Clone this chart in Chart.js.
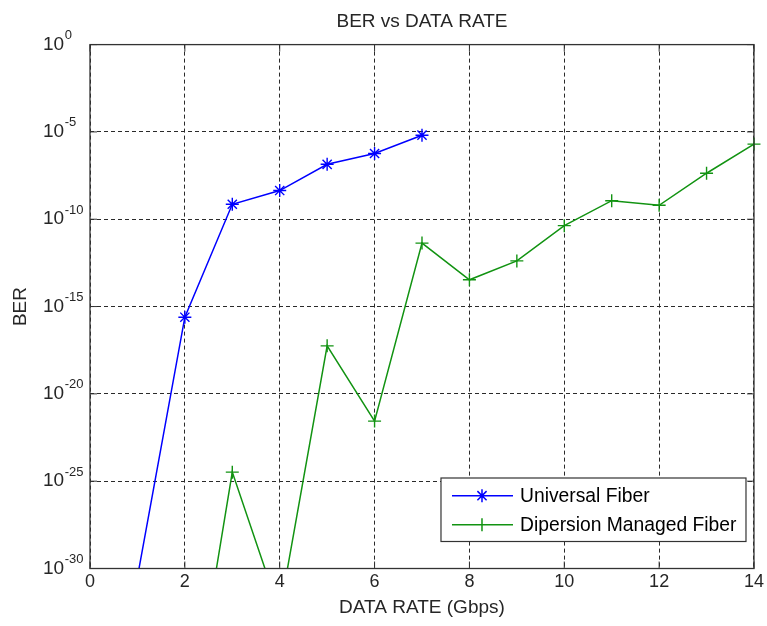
<!DOCTYPE html>
<html>
<head>
<meta charset="utf-8">
<script src="https://cdn.jsdelivr.net/npm/chart.js@4/dist/chart.umd.min.js"></script>
<style>
  html, body { margin: 0; padding: 0; background: #fff; }
  #wrap { width: 767px; height: 626px; position: relative; }
</style>
</head>
<body>
<div id="wrap"><canvas id="c"></canvas></div>
<script>
// ---- data ----
const chartTitle = 'BER vs DATA RATE';
const xAxisTitle = 'DATA RATE (Gbps)';
const yAxisTitle = 'BER';
const seriesNames = ['Universal Fiber', 'Dipersion Managed Fiber'];
const xUniversal = [1, 2, 3, 4, 5, 6, 7];
const berUniversal = [3.2e-31, 2.45e-16, 7.2e-10, 4.4e-9, 1.4e-7, 5.8e-7, 6.5e-6];
const xDispersion = [2, 3, 4, 5, 6, 7, 8, 9, 10, 11, 12, 13, 14];
const berDispersion = [1e-41, 3.3e-25, 3.2e-33, 5.6e-18, 2.75e-22, 4.3e-12, 3.4e-14, 4.1e-13, 4.3e-11, 1.15e-9, 6.3e-10, 4.3e-8, 2.0e-6];
const xTickStep = 2;
const xMin = 0, xMax = 14;
const yTickValues = [1e0, 1e-5, 1e-10, 1e-15, 1e-20, 1e-25, 1e-30];

const FONT = "'Liberation Sans', Arial, Helvetica, sans-serif";
const TEXT = '#262626';
const AXIS = '#333333';
const BLUE = '#0000ff';
const GREEN = '#129312';

Chart.defaults.font.family = FONT;
Chart.defaults.color = TEXT;

function toPoints(xs, ys) { return xs.map((x, i) => ({ x: x, y: ys[i] })); }

const decorPlugin = {
  id: 'decor',
  afterDatasetsDraw(chart) {
    const ctx = chart.ctx;
    const a = chart.chartArea;
    const xs = chart.scales.x, ys = chart.scales.y;
    ctx.save();
    // frame
    ctx.strokeStyle = AXIS;
    ctx.lineWidth = 1.3;
    ctx.setLineDash([]);
    ctx.strokeRect(a.left, a.top, a.right - a.left, a.bottom - a.top);
    // inward ticks
    const tl = 7;
    ctx.lineWidth = 1;
    ctx.beginPath();
    xs.ticks.forEach(t => {
      const px = xs.getPixelForValue(t.value);
      ctx.moveTo(px, a.bottom); ctx.lineTo(px, a.bottom - tl);
      ctx.moveTo(px, a.top); ctx.lineTo(px, a.top + tl);
    });
    ys.ticks.forEach(t => {
      const py = ys.getPixelForValue(t.value);
      ctx.moveTo(a.left, py); ctx.lineTo(a.left + tl, py);
      ctx.moveTo(a.right, py); ctx.lineTo(a.right - tl, py);
    });
    ctx.stroke();

    // y tick labels as 10^n
    ctx.fillStyle = TEXT;
    ys.ticks.forEach(t => {
      const py = ys.getPixelForValue(t.value);
      const e = Math.round(Math.log10(t.value));
      ctx.font = '19px ' + FONT;
      ctx.textAlign = 'left';
      ctx.textBaseline = 'middle';
      const bx = a.left - 47;
      ctx.fillText('10', bx, py);
      const w = ctx.measureText('10').width;
      ctx.font = '13px ' + FONT;
      ctx.fillText(String(e), bx + w + 0.5, py - 9);
    });

    // legend
    const lw = 305, lh = 63.5;
    const lx = a.right - 8 - lw, ly = a.bottom - 27 - lh;
    ctx.fillStyle = '#ffffff';
    ctx.fillRect(lx, ly, lw, lh);
    ctx.strokeStyle = AXIS;
    ctx.lineWidth = 1.2;
    ctx.strokeRect(lx, ly, lw, lh);
    chart.data.datasets.forEach((ds, i) => {
      const cy = ly + 17.7 + i * 29;
      ctx.strokeStyle = ds.borderColor;
      ctx.lineWidth = ds.borderWidth;
      ctx.beginPath();
      ctx.moveTo(lx + 11, cy); ctx.lineTo(lx + 72, cy);
      const mx = lx + 41, r = ds.pointRadius;
      ctx.moveTo(mx, cy - r); ctx.lineTo(mx, cy + r);
      if (ds.pointStyle === 'star') {
        const d = r * Math.SQRT1_2;
        ctx.moveTo(mx - d, cy - d); ctx.lineTo(mx + d, cy + d);
        ctx.moveTo(mx - d, cy + d); ctx.lineTo(mx + d, cy - d);
      }
      ctx.stroke();
      ctx.fillStyle = '#000000';
      ctx.font = '19.3px ' + FONT;
      ctx.textAlign = 'left';
      ctx.textBaseline = 'middle';
      ctx.fillText(ds.label, lx + 79, cy + 1);
    });
    ctx.restore();
  }
};

new Chart(document.getElementById('c'), {
  type: 'line',
  data: {
    datasets: [
      {
        label: seriesNames[0],
        data: toPoints(xUniversal, berUniversal),
        borderColor: BLUE,
        backgroundColor: BLUE,
        borderWidth: 1.5,
        pointStyle: 'star',
        pointRadius: 6.5,
        pointBorderWidth: 1.4,
        fill: false,
        tension: 0,
        clip: { left: 0, top: 10, right: 10, bottom: 0 }
      },
      {
        label: seriesNames[1],
        data: toPoints(xDispersion, berDispersion),
        borderColor: GREEN,
        backgroundColor: GREEN,
        borderWidth: 1.5,
        pointStyle: 'cross',
        pointRadius: 6.5,
        pointBorderWidth: 1.4,
        fill: false,
        tension: 0,
        clip: { left: 0, top: 10, right: 10, bottom: 0 }
      }
    ]
  },
  options: {
    responsive: true,
    maintainAspectRatio: false,
    animation: false,
    devicePixelRatio: 1,
    layout: { padding: { left: 0, right: 12, top: 0, bottom: 0 } },
    plugins: {
      legend: { display: false },
      tooltip: { enabled: false },
      title: {
        display: true,
        text: chartTitle,
        fullSize: false,
        color: TEXT,
        font: { size: 19, weight: 'normal', family: FONT },
        padding: { top: 10.8, bottom: 11 }
      }
    },
    scales: {
      x: {
        type: 'linear',
        min: xMin,
        max: xMax,
        ticks: { stepSize: xTickStep, color: TEXT, font: { size: 18 }, padding: 3, maxRotation: 0 },
        grid: { color: '#2a2a2a', lineWidth: 1, drawTicks: false },
        border: { display: false, dash: [4, 3] },
        title: { display: true, text: xAxisTitle, color: TEXT, font: { size: 19 }, padding: { top: 0, bottom: 7 } },
        afterFit(scale) { scale.height = 57.5; }
      },
      y: {
        type: 'logarithmic',
        min: yTickValues[yTickValues.length - 1],
        max: yTickValues[0],
        afterBuildTicks(scale) { scale.ticks = yTickValues.map(v => ({ value: v })); },
        ticks: { display: false },
        grid: { color: '#2a2a2a', lineWidth: 1, drawTicks: false },
        border: { display: false, dash: [4, 3] },
        title: { display: true, text: yAxisTitle, color: TEXT, font: { size: 19 }, padding: { top: 9.5, bottom: 0 } },
        afterFit(scale) { scale.width = 90; }
      }
    }
  },
  plugins: [decorPlugin]
});
</script>
</body>
</html>
